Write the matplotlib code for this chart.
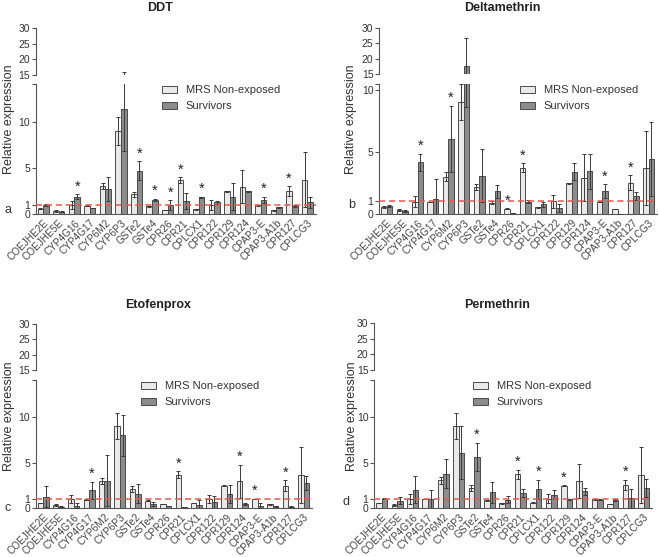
import matplotlib
matplotlib.use("Agg")
import matplotlib.pyplot as plt
import numpy as np
from matplotlib.patches import Patch

plt.rcParams['font.family'] = ['Liberation Sans', 'DejaVu Sans']

genes = ['COEJHE2E', 'COEJHE5E', 'CYP4G16', 'CYP4G17', 'CYP6M2', 'CYP6P3', 'GSTe2', 'GSTe4',
         'CPR26', 'CPR21', 'CPLCX1', 'CPR122', 'CPR129', 'CPR124', 'CPAP3-E', 'CPAP3-A1b',
         'CPR127', 'CPLCG3']
series_names = ['MRS Non-exposed', 'Survivors']

# DDT
ddt_mrs = [0.55, 0.33, 0.95, 0.87, 3.0, 9.0, 2.1, 0.83, 0.4, 3.65, 0.5, 0.95, 2.45, 2.95, 0.9, 0.36, 2.45, 3.7]
ddt_mrs_err = [0.05, 0.1, 0.45, 0.05, 0.35, 1.5, 0.3, 0.05, 0.05, 0.35, 0.05, 0.5, 0.05, 1.8, 0.05, 0.05, 0.55, 3.0]
ddt_surv = [0.95, 0.2, 1.85, 0.62, 2.7, 11.4, 4.7, 1.5, 0.95, 1.4, 1.8, 1.25, 1.85, 2.45, 1.5, 0.7, 0.8, 1.27]
ddt_surv_err = [0.1, 0.05, 0.25, 0.05, 1.3, 4.6, 1.0, 0.15, 0.5, 0.9, 0.05, 0.15, 1.45, 0.05, 0.35, 0.05, 0.1, 0.6]
ddt_star_mrs = ['CPR21', 'CPR127']
ddt_star_surv = ['CYP4G16', 'GSTe2', 'GSTe4', 'CPR26', 'CPLCX1', 'CPAP3-E']

# Deltamethrin
del_mrs = [0.55, 0.3, 0.98, 0.95, 3.0, 9.05, 2.15, 0.9, 0.4, 3.72, 0.52, 1.0, 2.47, 2.93, 0.98, 0.38, 2.5, 3.7]
del_mrs_err = [0.05, 0.1, 0.47, 0.03, 0.35, 1.45, 0.25, 0.1, 0.05, 0.35, 0.05, 0.5, 0.05, 1.87, 0.03, 0.03, 0.6, 3.0]
del_surv = [0.6, 0.22, 4.15, 1.22, 6.05, 17.7, 3.07, 1.8, 0.05, 0.98, 0.76, 0.46, 3.4, 3.42, 1.85, 0.0, 1.44, 4.45]
del_surv_err = [0.08, 0.05, 0.7, 1.58, 2.7, 9.1, 2.13, 0.55, 0.02, 0.15, 0.2, 0.34, 0.67, 1.38, 0.55, 0.0, 0.33, 3.0]
del_star_mrs = ['CPR26', 'CPR21', 'CPR127']
del_star_surv = ['CYP4G16', 'CYP6M2', 'CPAP3-E']

# Etofenprox
eto_mrs = [0.55, 0.33, 1.0, 0.92, 3.0, 9.05, 2.08, 0.8, 0.44, 3.65, 0.55, 1.0, 2.45, 2.92, 0.98, 0.4, 2.45, 3.65]
eto_mrs_err = [0.05, 0.12, 0.45, 0.03, 0.35, 1.45, 0.29, 0.05, 0.05, 0.4, 0.05, 0.46, 0.05, 1.83, 0.03, 0.05, 0.58, 3.05]
eto_surv = [1.25, 0.15, 0.25, 1.93, 3.0, 8.0, 1.57, 0.44, 0.22, 0.1, 0.36, 0.62, 1.57, 0.47, 0.25, 0.2, 0.15, 2.74]
eto_surv_err = [1.12, 0.05, 0.3, 0.97, 2.8, 2.25, 1.06, 0.22, 0.05, 0.03, 0.5, 0.68, 0.98, 0.1, 0.3, 0.05, 0.05, 0.73]
eto_star_mrs = ['CPR21', 'CPR124', 'CPAP3-E', 'CPR127']
eto_star_surv = ['CYP4G17']

# Permethrin
per_mrs = [0.55, 0.33, 1.02, 0.98, 3.03, 9.05, 2.19, 0.84, 0.51, 3.72, 0.58, 1.02, 2.45, 2.96, 0.95, 0.44, 2.52, 3.65]
per_mrs_err = [0.05, 0.1, 0.55, 0.03, 0.37, 1.45, 0.31, 0.08, 0.05, 0.48, 0.05, 0.48, 0.05, 1.84, 0.03, 0.05, 0.58, 3.05]
per_surv = [1.0, 0.8, 2.0, 0.95, 3.76, 6.1, 5.66, 1.72, 0.91, 1.64, 2.04, 1.46, 0.98, 1.82, 0.91, 0.88, 1.06, 2.19]
per_surv_err = [0.05, 0.37, 1.47, 1.05, 1.6, 2.9, 1.54, 1.13, 0.37, 0.44, 1.06, 0.51, 0.05, 0.37, 0.05, 0.1, 1.02, 1.01]
per_star_mrs = ['CPR21', 'CPR129', 'CPR127']
per_star_surv = ['GSTe2', 'CPLCX1']

W, H = 660, 557
fig = plt.figure(figsize=(W / 100, H / 100), dpi=100)

def rect(l, t, r, b):
    return [l / W, 1 - b / H, (r - l) / W, (b - t) / H]

MRS_C = '#e9e9e9'
SUR_C = '#8c8c8c'
EDGE = '#4a4a4a'
TXT = '#333333'

panels = [
    dict(title='DDT', letter='a', mrs=ddt_mrs, me=ddt_mrs_err, sur=ddt_surv, se=ddt_surv_err,
         sm=ddt_star_mrs, ss=ddt_star_surv, left=35.5, right=316, up=(28, 75), low=(84.3, 213.7), ymax=14.1,
         title_xy=(160, 8), ylab_xy=(9, 119), let_xy=(8, 210), leg_xy=(160, 83)),
    dict(title='Deltamethrin', letter='b', mrs=del_mrs, me=del_mrs_err, sur=del_surv, se=del_surv_err,
         sm=del_star_mrs, ss=del_star_surv, left=379, right=657, up=(28, 74), low=(84, 213.7), ymax=10.5,
         title_xy=(502, 8), ylab_xy=(351, 119), let_xy=(352, 205), leg_xy=(518, 83)),
    dict(title='Etofenprox', letter='c', mrs=eto_mrs, me=eto_mrs_err, sur=eto_surv, se=eto_surv_err,
         sm=eto_star_mrs, ss=eto_star_surv, left=35.5, right=312, up=(324, 370), low=(380, 508), ymax=14.1,
         title_xy=(158, 305), ylab_xy=(9, 416), let_xy=(8, 508), leg_xy=(139, 379)),
    dict(title='Permethrin', letter='d', mrs=per_mrs, me=per_mrs_err, sur=per_surv, se=per_surv_err,
         sm=per_star_mrs, ss=per_star_surv, left=374, right=652, up=(323, 370), low=(380, 508), ymax=14.1,
         title_xy=(497, 305), ylab_xy=(352, 416), let_xy=(346, 502), leg_xy=(471, 379)),
]

x = np.arange(len(genes))
bw = 0.36

for p in panels:
    axl = fig.add_axes(rect(p['left'], p['low'][0], p['right'], p['low'][1]))
    axu = fig.add_axes(rect(p['left'], p['up'][0], p['right'], p['up'][1]))
    for ax in (axl, axu):
        for s, v, e, c in ((-1, p['mrs'], p['me'], MRS_C), (1, p['sur'], p['se'], SUR_C)):
            xs = x + s * bw / 2
            ax.bar(xs, v, width=bw, color=c, edgecolor=EDGE, linewidth=0.7, zorder=2)
            ax.errorbar(xs, v, yerr=e, fmt='none', ecolor='#3a3a3a', elinewidth=0.7,
                        capsize=1.6, capthick=0.7, zorder=3)
        ax.set_xlim(-0.5, len(genes) - 0.45)
        ax.spines['top'].set_visible(False)
        ax.spines['right'].set_visible(False)
        for sp in ax.spines.values():
            sp.set_color('#555555')
            sp.set_linewidth(0.8)
        ax.tick_params(axis='y', direction='out', length=3, width=0.8, color='#555555',
                       labelsize=7.5, labelcolor=TXT, pad=1)
    axu.set_ylim(15, 30)
    axu.set_yticks([15, 20, 25, 30])
    axu.spines['bottom'].set_visible(False)
    axu.set_xticks([])
    axl.set_ylim(0, p['ymax'])
    axl.set_yticks([0, 1, 5, 10, p['ymax']])
    axl.set_yticklabels(['0', '1', '5', '10', ''])
    axl.set_xticks(x)
    axl.set_xticklabels(genes, rotation=45, ha='right', rotation_mode='anchor',
                        fontsize=7.2, color='#444444')
    axl.tick_params(axis='x', length=0, pad=3)
    axl.axhline(1, color='#e8574a', linestyle=(0, (4, 2.5)), linewidth=1.1, zorder=4)
    # stars
    for names, s, v, e in ((p['sm'], -1, p['mrs'], p['me']), (p['ss'], 1, p['sur'], p['se'])):
        for g in names:
            i = genes.index(g)
            axl.annotate('*', xy=(i + s * bw / 2, v[i] + e[i]), xytext=(0, 5.5),
                         textcoords='offset points', ha='center', va='center',
                         fontsize=10.5, color='#222222')
    fig.text(p['title_xy'][0] / W, 1 - p['title_xy'][1] / H, p['title'], ha='center', va='center',
             fontsize=9, fontweight='bold', color='#222222')
    fig.text(p['ylab_xy'][0] / W, 1 - p['ylab_xy'][1] / H, 'Relative expression', rotation=90,
             ha='center', va='center', fontsize=9, color=TXT)
    fig.text(p['let_xy'][0] / W, 1 - p['let_xy'][1] / H, p['letter'], ha='center', va='center',
             fontsize=9, color=TXT)
    handles = [Patch(facecolor=MRS_C, edgecolor=EDGE, linewidth=0.7),
               Patch(facecolor=SUR_C, edgecolor=EDGE, linewidth=0.7)]
    leg = axl.legend(handles, series_names, loc='upper left',
                     bbox_to_anchor=(p['leg_xy'][0] / W, 1 - p['leg_xy'][1] / H),
                     bbox_transform=fig.transFigure, frameon=False, fontsize=8,
                     handlelength=1.3, handleheight=0.65, handletextpad=0.8,
                     labelspacing=0.55, borderpad=0.2, borderaxespad=0)
    for t in leg.get_texts():
        t.set_color(TXT)

fig.savefig('out.png', dpi=100)
